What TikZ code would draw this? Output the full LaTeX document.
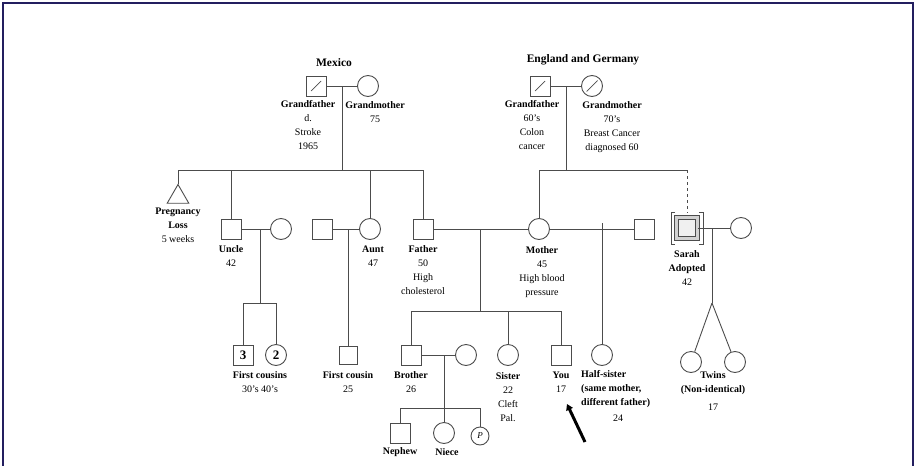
\documentclass[tikz,border=0pt]{standalone}
\usepackage{fontspec}
\setmainfont{Liberation Serif}
\usepackage{tikz}
\usetikzlibrary{arrows.meta,positioning,shapes.geometric}
\definecolor{framecol}{RGB}{35,30,95}
\tikzset{
  male/.style={rectangle, draw=black!70, line width=0.9pt, minimum size=20pt, inner sep=0pt},
  female/.style={circle, draw=black!70, line width=0.9pt, minimum size=21pt, inner sep=0pt},
  dead/.style={path picture={\draw[black!70, line width=0.7pt] ([shift={(5pt,5pt)}]path picture bounding box.south west) -- ([shift={(-5pt,-5pt)}]path picture bounding box.north east);}},
  rel/.style={draw=black!70, line width=0.9pt},
  lbl/.style={align=center, font=\fontsize{10}{14}\selectfont, inner sep=1pt},
  title/.style={font=\fontsize{11.5}{13}\selectfont\bfseries}
}
\begin{document}
\begin{tikzpicture}[x=1pt, y=-1pt]
\useasboundingbox (0,0) rectangle (916,466);
\draw[framecol, line width=2pt] (3,466) -- (3,3) -- (913,3) -- (913,466);

% grandparents
\node (mex) [title] at (334,63) {Mexico};
\node (gfm) [male, dead] at (316,86) {};
\node (gmm) [female] at (368,86) {};
\node (gfmlbl) [lbl, below=3pt of gfm, xshift=-8pt] {\textbf{Grandfather}\\d.\\Stroke\\1965};
\node (gmmlbl) [lbl, below=3pt of gmm, xshift=7pt] {\textbf{Grandmother}\\75};

\node (eng) [title] at (583,60) {England and Germany};
\node (gfe) [male, dead] at (540,86) {};
\node (gme) [female, dead] at (592,86) {};
\node (gfelbl) [lbl, below=3pt of gfe, xshift=-8pt] {\textbf{Grandfather}\\60's\\Colon\\cancer};
\node (gmelbl) [lbl, below=3pt of gme, xshift=20pt] {\textbf{Grandmother}\\70's\\Breast Cancer\\diagnosed 60};

\draw[rel] (gfm) -- (gmm);
\draw[rel] (gfe) -- (gme);
\coordinate (mexj) at (342,86);
\coordinate (s1a) at (178,170);
\coordinate (s1b) at (423,170);
\draw[rel] (mexj) -- (mexj |- s1a);
\draw[rel] (s1a) -- (s1b);
\coordinate (engj) at (566,86);
\coordinate (s2a) at (539,170);
\coordinate (s2b) at (687,170);
\draw[rel] (engj) -- (engj |- s2a);
\draw[rel] (s2a) -- (s2b);

% parents generation
\node (loss) [regular polygon, regular polygon sides=3, draw=black!70, line width=0.9pt, minimum size=25pt, inner sep=0pt] at (178,197) {};
\node (losslbl) [lbl, below=3pt of loss] {\textbf{Pregnancy}\\\textbf{Loss}\\5 weeks};
\node (uncle) [male] at (231,229) {};
\node (uncsp) [female] at (281,229) {};
\node (unclbl) [lbl, below=5pt of uncle] {\textbf{Uncle}\\42};
\node (aunsp) [male] at (322,229) {};
\node (aunt) [female] at (370,229) {};
\node (auntlbl) [lbl, below=5pt of aunt, xshift=3pt] {\textbf{Aunt}\\47};
\node (father) [male] at (423,229) {};
\node (mother) [female] at (539,229) {};
\node (fatherlbl) [lbl, below=5pt of father] {\textbf{Father}\\50\\High\\cholesterol};
\node (motherlbl) [lbl, below=5pt of mother, xshift=3pt] {\textbf{Mother}\\45\\High blood\\pressure};
\node (hsdad) [male] at (644,229) {};
\node (sarah) [rectangle, draw=black!70, line width=0.9pt, double=gray!35, double distance=2.5pt, fill=gray!12, minimum size=21pt] at (687,228) {};
\node (sarsp) [female] at (741,228) {};
\node (sarahlbl) [lbl, below=10pt of sarah] {\textbf{Sarah}\\\textbf{Adopted}\\42};
\draw[rel] ([shift={(-1pt,5pt)}]sarah.north west) -- ++(-4pt,0) |- ([shift={(-1pt,-5pt)}]sarah.south west);
\draw[rel] ([shift={(1pt,5pt)}]sarah.north east) -- ++(4pt,0) |- ([shift={(1pt,-5pt)}]sarah.south east);

\draw[rel] (s1a) -- (loss.north);
\draw[rel] (uncle.north |- s1a) -- (uncle.north);
\draw[rel] (aunt.north |- s1a) -- (aunt.north);
\draw[rel] (s1b) -- (father.north);
\draw[rel] (s2a) -- (mother.north);
\draw[rel, dashed] (s2b) -- ([yshift=5pt]sarah.north);

\draw[rel] (uncle) -- (uncsp);
\draw[rel] (aunsp) -- (aunt);
\draw[rel] (father) -- (mother);
\draw[rel] (mother) -- (hsdad);
\draw[rel] (sarah) -- (sarsp);

% cousins
\coordinate (uncj) at (260,229);
\coordinate (cous) at (260,303);
\draw[rel] (uncj) -- (cous);
\node (cous3) [male, font=\bfseries\fontsize{13}{13}\selectfont] at (243,355) {3};
\node (cous2) [female, font=\bfseries\fontsize{13}{13}\selectfont] at (276,355) {2};
\draw[rel] (cous3.north) -- (cous3.north |- cous) -- (cous2.north |- cous) -- (cous2.north);
\node (couslbl) [lbl, anchor=north] at (260,370) {\textbf{First cousins}\\30's 40's};
\coordinate (auntj) at (348,229);
\node (cous1) [male, minimum size=18pt] at (348,355) {};
\draw[rel] (auntj) -- (cous1);
\node (cous1lbl) [lbl, below=6pt of cous1] {\textbf{First cousin}\\25};

% siblings
\coordinate (parj) at (480,229);
\coordinate (kids) at (480,311);
\draw[rel] (parj) -- (kids);
\node (brother) [male] at (411,355) {};
\node (sister) [female] at (508,355) {};
\node (you) [male] at (561,355) {};
\draw[rel] (brother.north) -- (brother.north |- kids) -- (you.north |- kids) -- (you.north);
\draw[rel] (sister.north |- kids) -- (sister.north);
\node (brotherlbl) [lbl, below=5pt of brother] {\textbf{Brother}\\26};
\node (sisterlbl) [lbl, below=5pt of sister] {\textbf{Sister}\\22\\Cleft\\Pal.};
\node (youlbl) [lbl, below=5pt of you] {\textbf{You}\\17};
\coordinate (arrs) at (585,442);
\coordinate (arre) at (567,404);
\draw[line width=3pt, -{Triangle[length=6pt, width=7pt]}] (arrs) -- (arre);

\coordinate (hsj) at (602,223);
\node (hsis) [female] at (602,355) {};
\draw[rel] (hsj) -- (hsis);
\node (hsislbl) [lbl, align=left, anchor=north west] at (580,369) {\textbf{Half-sister}\\\textbf{(same mother,}\\\textbf{different father)}\\[2pt]\hspace*{32pt}24};

% nephew and niece
\node (brsp) [female] at (466,355) {};
\draw[rel] (brother) -- (brsp);
\coordinate (brj) at (444,355);
\coordinate (nkids) at (444,408);
\draw[rel] (brj) -- (nkids);
\node (nephew) [male] at (400,433) {};
\node (niece) [female] at (444,433) {};
\node (preg) [female, minimum size=18pt, font=\itshape\fontsize{9}{9}\selectfont] at (480,436) {P};
\draw[rel] (nephew.north) -- (nephew.north |- nkids) -- (preg.north |- nkids) -- (preg.north);
\draw[rel] (nkids) -- (niece.north);
\node (nephewlbl) [lbl, below=3pt of nephew] {\textbf{Nephew}};
\node (niecelbl) [lbl, below=3pt of niece, xshift=3pt] {\textbf{Niece}};

% twins
\coordinate (sarj) at (712,228);
\coordinate (twj) at (712,303);
\draw[rel] (sarj) -- (twj);
\node (twin1) [female] at (691,362) {};
\node (twin2) [female] at (735,362) {};
\draw[rel] (twj) -- (twin1);
\draw[rel] (twj) -- (twin2);
\node (twinlbl) [lbl, anchor=north] at (713,370) {\textbf{Twins}\\\textbf{(Non-identical)}\\[4pt]17};
\end{tikzpicture}
\end{document}
